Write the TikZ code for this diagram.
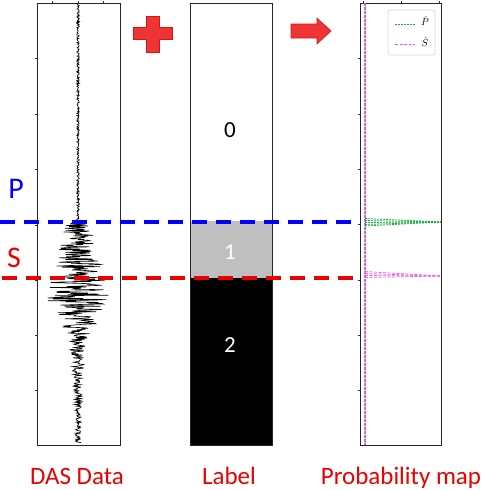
\documentclass[tikz,border=0pt]{standalone}
\usepackage{fontspec}
\setmainfont{Carlito}
\definecolor{pred}{RGB}{235,0,0}
\definecolor{pblue}{RGB}{0,0,255}
\definecolor{pluscol}{RGB}{238,52,52}
\definecolor{plusedge}{RGB}{215,20,20}
\definecolor{lgray}{RGB}{191,191,191}
\definecolor{pgreen}{RGB}{20,170,60}
\definecolor{ppink}{RGB}{240,90,230}
\begin{document}
\begin{tikzpicture}[x=1pt,y=-1pt,
  panel/.style={draw=black!85, line width=0.9pt, minimum width=83pt, minimum height=442pt, inner sep=0pt},
  tickmark/.style={draw=black!80, line width=0.6pt},
  pline/.style={draw=pblue, line width=4pt, dash pattern=on 15pt off 9pt},
  sline/.style={draw=pred, line width=4pt, dash pattern=on 15pt off 9pt},
  caption/.style={text=pred, font=\fontsize{25}{25}\selectfont, anchor=base},
  phase/.style={text=pblue, font=\fontsize{30}{30}\selectfont},
  digit/.style={font=\fontsize{23}{23}\selectfont},
  gdash/.style={draw=pgreen, line width=0.7pt, dash pattern=on 2pt off 1pt},
  kdash/.style={draw=ppink, line width=0.7pt, dash pattern=on 3pt off 1.5pt},
  legtext/.style={font=\fontsize{10}{10}\selectfont, inner sep=0pt},
  declare function={env(\t)=(\t<222)?1.3:((\t<298)?(12+20*(\t-222)/76):((\t<340)?(32-22*(\t-298)/42):(8*exp(-max(\t-340,0)/35)+2.2)));}
]
\useasboundingbox (0,0) rectangle (484,490);

% ---------- Label panel ----------
\fill[lgray] (190,221) rectangle (272,278);
\fill[black] (190,278) rectangle (272,445);
\node[panel, minimum width=82pt] (lab) at (231,224) {};
\node[digit] (d0) at (230,130) {0};
\node[digit, text=white] (d1) at (230,252) {1};
\node[digit, text=white] (d2) at (230,345) {2};

% ---------- DAS panel ----------
\node[panel] (das) at (78.5,224) {};
\pgfmathsetseed{7}
\draw[black, line width=0.6pt] plot[domain=4:443, samples=800, variable=\t] ({78+env(\t)*rand},\t);
\foreach \yy in {58,114,169,225,280,335,390} \draw[tickmark] (34.5,\yy) -- (37,\yy);
\foreach \xx in {52,78,103} \draw[tickmark] (\xx,0.5) -- (\xx,3);

% ---------- Probability panel ----------
\node[panel, minimum width=81pt] (prob) at (400.5,224) {};
\coordinate (pb0) at (365,3);
\coordinate (pb1) at (365,445);
\draw[draw=ppink, line width=1.1pt, dash pattern=on 3pt off 1pt] (pb0) -- (pb1);
\draw[gdash, draw opacity=0.45, line width=0.5pt] ([xshift=0.5pt]pb0) -- ([xshift=0.5pt]pb1);
\foreach \yy in {58,114,169,224,280,335,390} \draw[tickmark] (357.5,\yy) -- (360,\yy);
\foreach \xx in {363,401,439} \draw[tickmark] (\xx,0.5) -- (\xx,3);
% spikes
\coordinate (gtip) at (441,222);
\coordinate (ptip) at (441,276);
\foreach \yy in {218.5,220.5,222.5,224.5,226} \draw[gdash] (365,\yy) -- (gtip);
\foreach \yy in {271.5,273.5,275.5,277.5} \draw[kdash] (365,\yy) -- (ptip);
% legend
\draw[draw=black!15, line width=0.8pt, rounded corners=2pt, fill=white] (388,10) rectangle (435,55);
\coordinate (g1) at (395,24); \coordinate (g2) at (415,24);
\coordinate (k1) at (395,44); \coordinate (k2) at (415,44);
\draw[gdash] (g1) -- (g2);
\draw[kdash] (k1) -- (k2);
\node[legtext] (lp) at (425,21) {$\hat{P}$};
\node[legtext] (ls) at (425,42) {$\hat{S}$};

% ---------- Phase lines ----------
\coordinate (p0) at (0,222);
\coordinate (p1) at (357,222);
\coordinate (s0) at (2,278);
\coordinate (s1) at (357,278);
\draw[pline] (p0) -- (p1);
\draw[sline] (s0) -- (s1);
\node[phase] (P) at (16,189) {P};
\node[phase, text=pred] (S) at (14,258) {S};

% ---------- plus and arrow ----------
\draw[fill=pluscol, draw=plusedge, line width=0.6pt]
  (146,16) -- (159,16) -- (159,27.5) -- (172,27.5) -- (172,39.5) -- (159,39.5) -- (159,52) -- (146,52)
  -- (146,39.5) -- (133,39.5) -- (133,27.5) -- (146,27.5) -- cycle;
\draw[fill=pluscol, draw=plusedge, line width=0.6pt]
  (291,24) -- (317,24) -- (317,18) -- (331,31) -- (317,44) -- (317,38) -- (291,38) -- cycle;

% ---------- captions ----------
\node[caption] (c1) at (77,484) {DAS Data};
\node[caption] (c2) at (229,484) {Label};
\node[caption] (c3) at (401,484) {Probability map};
\end{tikzpicture}
\end{document}
